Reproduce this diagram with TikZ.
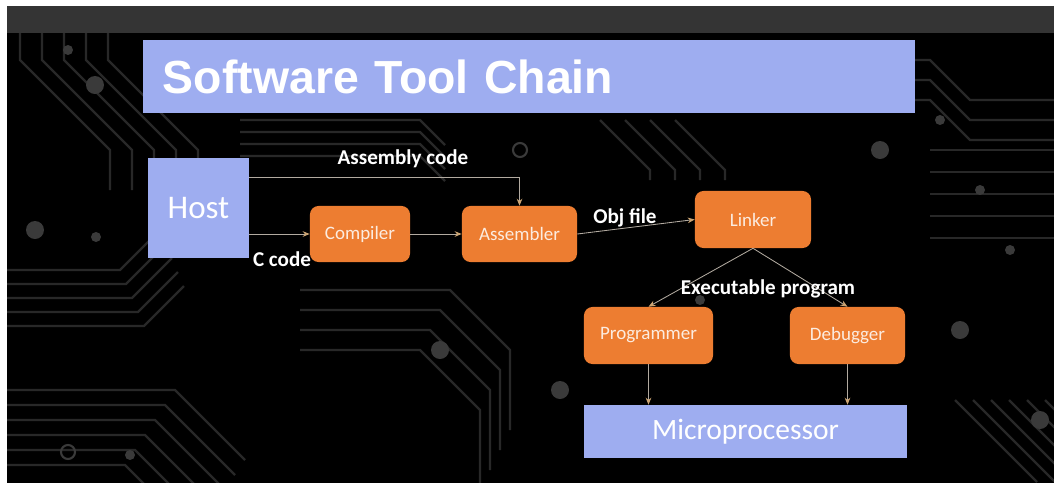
\documentclass[tikz,border=0pt]{standalone}
\usepackage{fontspec}
\setmainfont{Carlito}
\newfontfamily\titlefont{Liberation Sans}
\usetikzlibrary{arrows.meta}

\definecolor{boxblue}{RGB}{158,173,240}
\definecolor{boxorange}{RGB}{237,125,49}
\definecolor{barGray}{RGB}{52,52,52}
\definecolor{traceGray}{RGB}{40,40,40}
\definecolor{padGray}{RGB}{58,58,58}
\definecolor{linkGray}{RGB}{178,170,160}
\definecolor{tipTan}{RGB}{205,165,115}

\tikzset{
  bluebox/.style={fill=boxblue, text=white, inner sep=0pt},
  orangebox/.style={fill=boxorange, rounded corners=6pt, text=white!85!boxorange,
    inner sep=0pt, minimum height=1.4cm, font=\fontsize{13.5}{16}\selectfont},
  link/.style={draw=linkGray, line width=0.6pt,
    -{Stealth[length=5pt,width=4pt,color=tipTan]}},
  lbl/.style={text=white, font=\bfseries\fontsize{15}{18}\selectfont, inner sep=0pt},
  trace/.style={draw=traceGray, line width=1.6pt},
  pad/.style={fill=padGray},
}

\begin{document}
\begin{tikzpicture}[x=0.025cm, y=-0.025cm]
  \useasboundingbox (0,0) rectangle (1054,482);
  % background
  \fill[white] (0,0) rectangle (1054,482);
  \fill[black] (7,33) rectangle (1060,490);
  \fill[barGray] (7,6) rectangle (1060,33);

  % circuit traces
  \begin{scope}
  \clip (7,33) rectangle (1060,490);
  \foreach \i in {0,...,5}
    \draw[trace] (7,390+15*\i) -- (175-10*\i,390+15*\i) -- ++(70,70);
  \foreach \i in {0,...,4}
    \draw[trace] (7,270+14*\i) -- (120+6*\i,270+14*\i) -- ++(40,-40);
  \foreach \i in {0,...,4}
    \draw[trace] (20+22*\i,33) -- (20+22*\i,60) -- ++(90,90) -- ++(0,40);
  \foreach \i in {0,...,4}
    \draw[trace] (930,150+22*\i) -- (1054,150+22*\i);
  \foreach \i in {0,...,5}
    \draw[trace] (955+18*\i,400) -- ++(82,82);
  \foreach \i in {0,...,3}
    \draw[trace] (300,290+20*\i) -- (450-10*\i,290+20*\i) -- ++(60,60) -- ++(0,80);
  \foreach \i in {0,...,3}
    \draw[trace] (600+25*\i,120) -- ++(50,50) -- ++(0,10);
  \foreach \i in {0,...,3}
    \draw[trace] (240,120+12*\i) -- (420,120+12*\i) -- ++(25,25);
  \foreach \i in {0,...,2}
    \draw[trace] (830,60+20*\i) -- (930,60+20*\i) -- ++(40,40) -- (1054,100+20*\i);
  \foreach \p in {(95,85),(880,150),(1040,420),(35,230),(440,350),(960,330),(560,390)}
    \fill[pad] \p circle (9);
  \foreach \p in {(68,50),(96,237),(130,455),(980,190),(1010,250),(700,300),(940,120)}
    \fill[pad] \p circle (5);
  \foreach \p in {(68,452),(183,60),(520,150),(860,60)}
    \draw[padGray, line width=1.5pt] \p circle (7);
  \end{scope}

  % title
  \node[bluebox, minimum width=19.3cm, minimum height=1.825cm, text width=18.3cm,
    align=left, inner xsep=0.5cm, font=\titlefont\bfseries\fontsize{33}{38}\selectfont]
    (title) at (529,76.5) {Software Tool Chain};

  % blocks
  \node[bluebox, minimum width=2.525cm, minimum height=2.5cm,
    font=\fontsize{23.5}{28}\selectfont] (host) at (198.5,208) {Host};
  \node[orangebox, minimum width=2.5cm] (compiler) at (360,234) {Compiler};
  \node[orangebox, minimum width=2.875cm] (assembler) at (519.5,234) {Assembler};
  \node[orangebox, minimum width=2.9cm, minimum height=1.425cm] (linker) at (753,219.5) {Linker};
  \node[orangebox, minimum width=3.225cm, minimum height=1.425cm] (programmer) at (648.5,335.5) {Programmer};
  \node[orangebox, minimum width=2.875cm, minimum height=1.425cm] (debugger) at (847.5,335.5) {Debugger};
  \node[bluebox, minimum width=8.075cm, minimum height=1.325cm,
    font=\fontsize{21}{25}\selectfont] (micro) at (745.5,431.5) {Microprocessor};

  % connectors
  \draw[link] ([yshift=-0.5cm]host.north east) -| (assembler.north);
  \draw[link] (host.east |- compiler.west) -- (compiler.west);
  \draw[link] (compiler.east) -- (assembler.west);
  \draw[link] (assembler.east) -- (linker.west);
  \draw[link] (linker.south) -- (programmer.north);
  \draw[link] (linker.south) -- (debugger.north);
  \draw[link] (programmer.south) -- (programmer.south |- micro.north);
  \draw[link] (debugger.south) -- (debugger.south |- micro.north);

  % labels
  \node[lbl] (asmcode) at (403,159) {Assembly code};
  \node[lbl] (ccode) at (282,259) {C code};
  \node[lbl] (objfile) at (625,218) {Obj file};
  \node[lbl] (exeprog) at (768,289) {Executable program};
\end{tikzpicture}
\end{document}
